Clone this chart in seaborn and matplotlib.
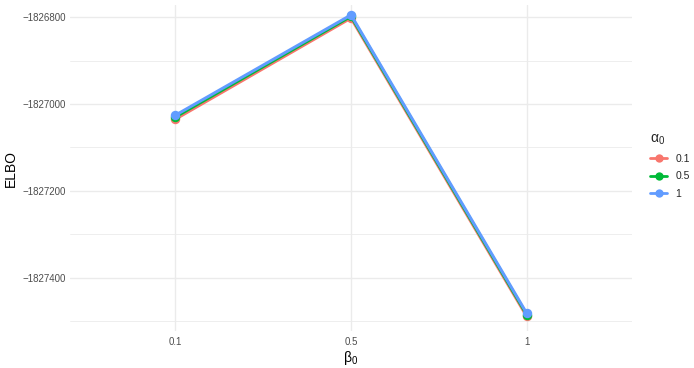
import matplotlib
matplotlib.use("Agg")
import matplotlib.pyplot as plt
import seaborn as sns
import pandas as pd
from matplotlib.ticker import MultipleLocator, FuncFormatter
from matplotlib.lines import Line2D

beta0 = ["0.1", "0.5", "1"]
alpha0 = ["0.1", "0.5", "1"]
elbo_a01 = [-1827035, -1826802, -1827489]
elbo_a05 = [-1827030, -1826798, -1827485]
elbo_a1 = [-1827026, -1826795, -1827482]
colors = ["#F8766D", "#00BA38", "#619CFF"]

rows = []
for a, vals in zip(alpha0, [elbo_a01, elbo_a05, elbo_a1]):
    for b, v in zip(beta0, vals):
        rows.append({"beta0": b, "alpha0": a, "ELBO": v})
df = pd.DataFrame(rows)

sns.set_style("white")
plt.rcParams['font.family'] = ['Liberation Sans', 'DejaVu Sans']
plt.rcParams['mathtext.fontset'] = 'custom'
plt.rcParams['mathtext.rm'] = 'Liberation Sans'
plt.rcParams['mathtext.it'] = 'Liberation Sans'

fig = plt.figure(figsize=(6.94, 3.68), dpi=100)
ax = fig.add_axes([70/694, 1-331/368, (632-70)/694, (331-5)/368])

sns.lineplot(data=df, x="beta0", y="ELBO", hue="alpha0", hue_order=alpha0,
             palette=colors, marker="o", markersize=6.8, markeredgewidth=0,
             linewidth=2.2, ax=ax, legend=False, sort=False)

ax.set_xlim(-0.6, 2.6)
ax.set_ylim(-1827523, -1826772)

ax.yaxis.set_major_locator(MultipleLocator(200))
ax.yaxis.set_minor_locator(MultipleLocator(100))
ax.yaxis.set_major_formatter(FuncFormatter(lambda v, p: f"\u2212{abs(int(round(v)))}" if v < 0 else f"{int(round(v))}"))
ax.grid(True, which="major", color="#EBEBEB", linewidth=1.0)
ax.grid(True, which="minor", axis="y", color="#EBEBEB", linewidth=0.6)
ax.set_axisbelow(True)
for s in ax.spines.values():
    s.set_visible(False)
ax.tick_params(which="both", length=0, labelsize=7, labelcolor="#4D4D4D", pad=3)
ax.tick_params(axis="x", pad=4)

ax.set_xlabel("\u03b2$_0$", fontsize=10, color="black", labelpad=2)
ax.set_ylabel("ELBO", fontsize=10, color="black", labelpad=3)

handles = [Line2D([0], [0], color=c, marker="o", markersize=6, markeredgewidth=0, linewidth=2)
           for c in colors]
leg = fig.legend(handles, alpha0, title="\u03b1$_0$", loc="upper left",
                 bbox_to_anchor=(641/694, 1-122/368), frameon=False,
                 fontsize=7.5, title_fontsize=10, handlelength=1.6,
                 labelspacing=0.7, alignment="left")

fig.savefig("out.png", dpi=100)
